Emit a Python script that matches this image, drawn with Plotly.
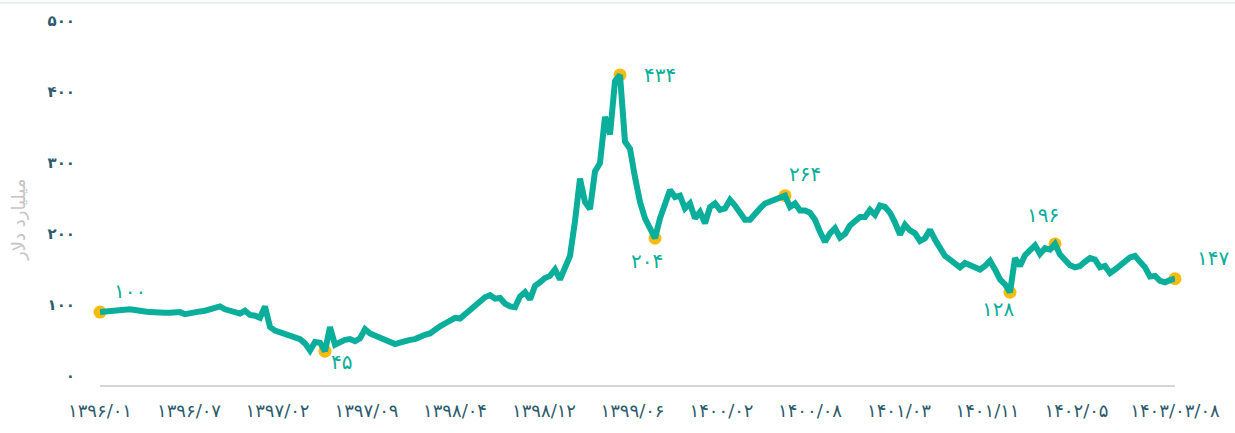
import plotly.graph_objects as go

# Weekly-sampled reserve series (billion dollars), evenly spaced samples
values = [
    100, 101, 102, 103, 104, 105, 104, 103, 101, 101,
    100, 99, 99, 99, 99, 99, 100, 97, 99, 100,
    101, 102, 104, 107, 108, 104, 102, 100, 98, 102,
    96, 95, 92, 108, 79, 74, 72, 70, 67, 64,
    62, 56, 46, 58, 57, 45, 79, 54, 58, 61,
    62, 59, 63, 76, 70, 67, 64, 61, 58, 55,
    57, 60, 61, 62, 66, 68, 70, 76, 80, 84,
    87, 92, 91, 97, 102, 108, 115, 121, 124, 119,
    120, 112, 108, 107, 122, 128, 118, 137, 142, 148,
    151, 160, 146, 162, 179, 228, 288, 255, 245, 298,
    310, 375, 350, 425, 434, 340, 330, 290, 255, 232,
    220, 204, 232, 255, 272, 262, 264, 246, 253, 232,
    241, 225, 248, 253, 244, 246, 258, 250, 240, 230,
    230, 239, 246, 253, 256, 259, 262, 264, 248, 253,
    243, 243, 240, 230, 213, 199, 211, 218, 205, 210,
    222, 228, 234, 234, 244, 237, 250, 248, 240, 226,
    209, 223, 215, 211, 200, 204, 216, 202, 192, 179,
    174, 168, 163, 169, 166, 162, 160, 165, 172, 160,
    146, 139, 128, 176, 165, 180, 188, 194, 182, 190,
    188, 196, 181, 173, 166, 163, 165, 171, 176, 174,
    163, 165, 155, 160, 165, 171, 177, 179, 172, 163,
    150, 151, 144, 142, 145, 147,
]
idx = list(range(len(values)))

# Highlighted points: sample index, label, label offset (px)
mark_idx = [0, 45, 104, 111, 137, 182, 191, 215]
mark_text = ["۱۰۰", "۴۵", "۴۳۴", "۲۰۴", "۲۶۴", "۱۲۸", "۱۹۶", "۱۴۷"]
mark_dx = [30, 16, 40, -8, 20, -12, -12, 38]
mark_dy = [21, -11, 0, -23, 22, -17, 29, 21]

# Axis labels
tick_pos = [0, 17.8, 35.5, 53.3, 71, 88.8, 106.5, 124.3, 142, 159.8, 177.5, 195.3, 215]
tick_text = ["۱۳۹۶/۰۱", "۱۳۹۶/۰۷", "۱۳۹۷/۰۲", "۱۳۹۷/۰۹", "۱۳۹۸/۰۴", "۱۳۹۸/۱۲",
             "۱۳۹۹/۰۶", "۱۴۰۰/۰۲", "۱۴۰۰/۰۸", "۱۴۰۱/۰۳", "۱۴۰۱/۱۱", "۱۴۰۲/۰۵",
             "۱۴۰۳/۰۳/۰۸"]
y_ticks = [0, 100, 200, 300, 400, 500]
y_text = ["۰", "۱۰۰", "۲۰۰", "۳۰۰", "۴۰۰", "۵۰۰"]

LINE = "#0aae9b"
MARK = "#f9bb10"
TICK = "#2b5b6c"
FONT = "DejaVu Sans"

fig = go.Figure()
fig.add_trace(go.Scatter(
    x=mark_idx, y=[values[i] for i in mark_idx], mode="markers",
    marker=dict(size=13, color=MARK), cliponaxis=False, hoverinfo="skip",
))
fig.add_trace(go.Scatter(
    x=idx, y=values, mode="lines",
    line=dict(color=LINE, width=6, shape="linear"), cliponaxis=False,
))

for i, t, dx, dy in zip(mark_idx, mark_text, mark_dx, mark_dy):
    fig.add_annotation(
        x=i, y=values[i], text=t, showarrow=False,
        xshift=dx, yshift=dy,
        font=dict(family=FONT, size=20, color=LINE),
    )

fig.add_annotation(
    xref="paper", yref="paper", x=-0.088, y=0.462,
    text="میلیارد دلار", textangle=-90, showarrow=False,
    font=dict(family=FONT, size=18, color="#c4c4c4"),
)

# thin border along the top edge of the figure
fig.add_shape(
    type="line", xref="paper", yref="paper",
    x0=-0.093, x1=1.056, y0=1.0705, y1=1.0705,
    line=dict(color="#e3eeee", width=2),
)

fig.update_layout(
    width=1235, height=433,
    margin=dict(l=100, r=60, t=26, b=46),
    paper_bgcolor="white", plot_bgcolor="white",
    showlegend=False,
    xaxis=dict(
        range=[0, 215], tickvals=tick_pos, ticktext=tick_text,
        showgrid=False, zeroline=False, showline=True,
        linecolor="#d6d6d6", linewidth=2, ticks="",
        tickfont=dict(family=FONT, size=18, color=TICK),
        ticklabelstandoff=8,
    ),
    yaxis=dict(
        range=[-2.6, 500], tickvals=y_ticks, ticktext=y_text,
        showgrid=False, zeroline=False, showline=False, ticks="",
        tickfont=dict(family=FONT, size=15, color=TICK, weight=600),
        ticklabelstandoff=24, ticklabelshift=-7,
    ),
)

fig.write_html("out.html")
